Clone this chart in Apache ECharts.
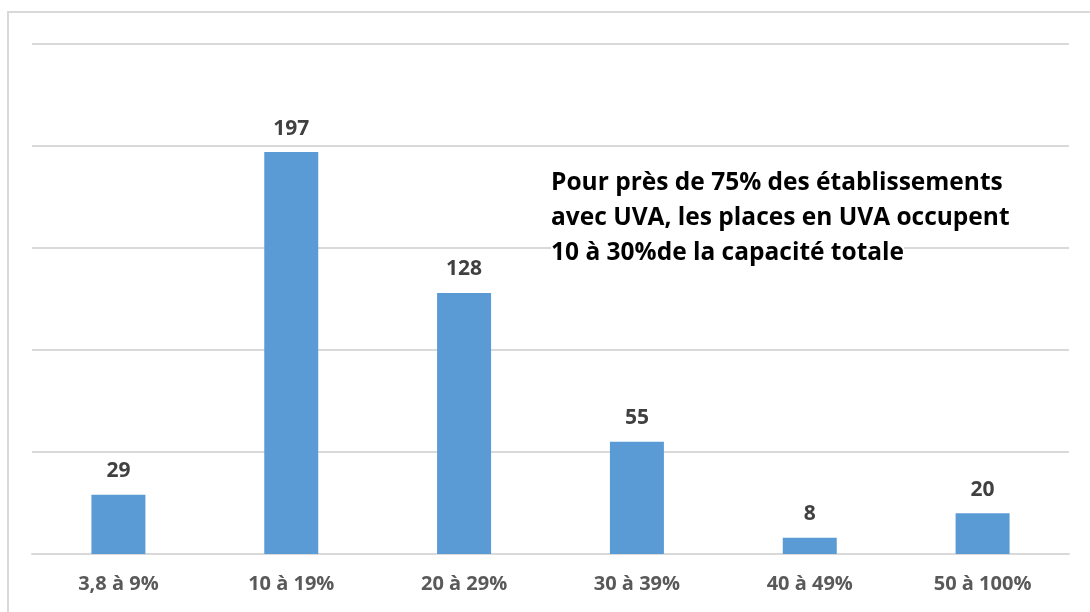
<!DOCTYPE html>
<html>
<head>
<meta charset="utf-8">
<script src="https://cdn.jsdelivr.net/npm/echarts@6/dist/echarts.min.js"></script>
<style>
html, body { margin: 0; padding: 0; background: #fff; }
#chart1 { width: 1090px; height: 612px; }
</style>
</head>
<body>
<div id="chart1"></div>
<script>
// catégories (part des places en UVA)
var categories = ['3,8 à 9%', '10 à 19%', '20 à 29%', '30 à 39%', '40 à 49%', '50 à 100%'];
// nombre d'établissements
var values = [29, 197, 128, 55, 8, 20];
// texte de commentaire
var noteLines = [
    'Pour près de 75% des établissements',
    'avec UVA, les places en UVA occupent',
    '10 à 30%de la capacité totale'
];

var myChart = {
    init: function () {
        var noteY = [186, 221, 256];
        var graphics = [{
            type: 'rect',
            shape: { x: 8, y: 12, width: 1200, height: 700 },
            style: { fill: 'none', stroke: '#d9d9d9', lineWidth: 2 },
            z: 1
        }];
        noteLines.forEach(function (txt, i) {
            graphics.push({
                type: 'text',
                left: 551,
                top: noteY[i] - 15,
                style: {
                    text: txt,
                    fill: '#000',
                    font: 'bold 24.5px "Open Sans"',
                    backgroundColor: '#fff'
                },
                z: 100
            });
        });
        var option = {
            animation: false,
            color: ['#5b9bd5'],
            grid: {
                left: 32,
                right: 21,
                top: 44,
                bottom: 58,
                containLabel: false
            },
            xAxis: {
                type: 'category',
                data: categories,
                axisTick: { show: false },
                axisLine: { lineStyle: { color: '#d9d9d9', width: 2 } },
                axisLabel: {
                    color: '#595959',
                    fontFamily: 'Open Sans',
                    fontWeight: 'bold',
                    fontSize: 20,
                    margin: 20
                }
            },
            yAxis: {
                type: 'value',
                min: 0,
                max: 250,
                interval: 50,
                axisLabel: { show: false },
                axisLine: { show: false },
                axisTick: { show: false },
                splitLine: { lineStyle: { color: '#d9d9d9', width: 2 } }
            },
            series: [{
                type: 'bar',
                data: values,
                barWidth: 54,
                label: {
                    show: true,
                    position: 'top',
                    distance: 13,
                    color: '#404040',
                    fontFamily: 'Open Sans',
                    fontWeight: 'bold',
                    fontSize: 21
                }
            }],
            graphic: graphics
        };
        var chart = echarts.init(document.getElementById('chart1'));
        chart.setOption(option);
        return chart;
    }
};

var chartObj = myChart.init();
window.addEventListener('resize', function () {
    chartObj.resize();
});
</script>
</body>
</html>
